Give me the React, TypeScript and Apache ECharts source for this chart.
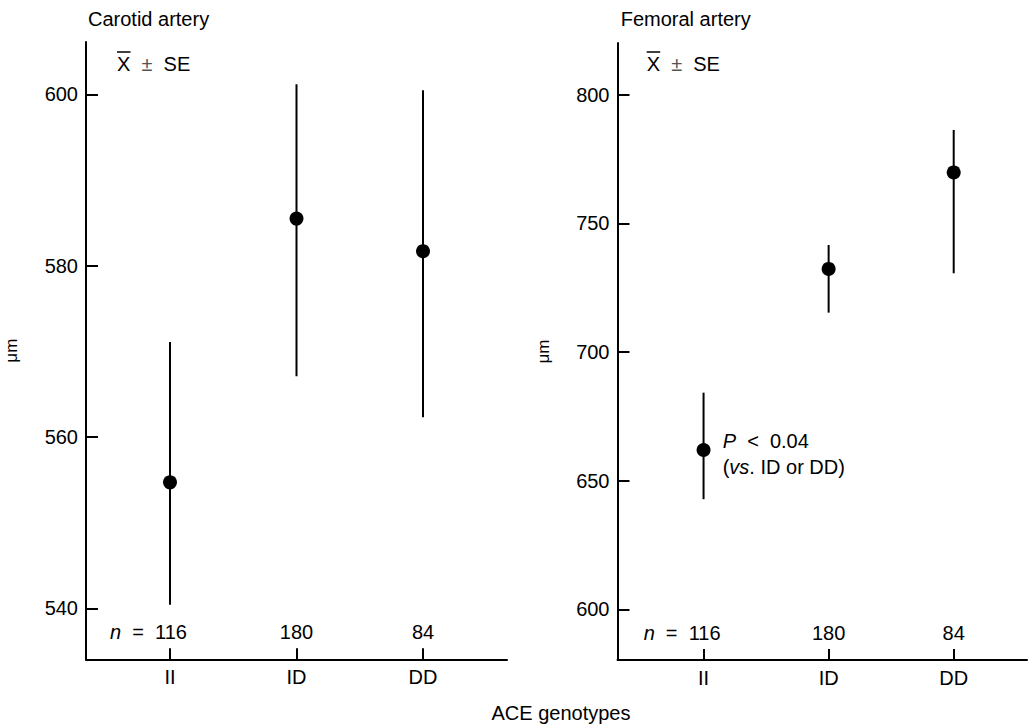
import React, { useEffect, useRef } from "react";
import * as echarts from "echarts";

const categories = ["II", "ID", "DD"];
const categoryPos = [1, 2, 3];
const nCounts = [116, 180, 84];

const carotidMean = [554.7, 585.5, 581.7];
const carotidLow = [540.4, 567.1, 562.3];
const carotidHigh = [571.1, 601.2, 600.5];

const femoralMean = [661.9, 732.3, 769.8];
const femoralLow = [642.8, 715.3, 730.6];
const femoralHigh = [684.2, 741.6, 786.3];

const carotidTicks = [540, 560, 580, 600];
const femoralTicks = [600, 650, 700, 750, 800];

const FONT = "'Liberation Sans', Arial, Helvetica, sans-serif";

function App() {
  const ref = useRef<HTMLDivElement>(null);

  useEffect(() => {
    if (!ref.current) return;
    const chart = echarts.init(ref.current, undefined, { renderer: "svg" });

    const axisLine = { show: true, lineStyle: { color: "#000", width: 2 } };

    const yAxis = (idx: number, min: number, max: number, ticks: number[]) => ({
      type: "value",
      gridIndex: idx,
      min,
      max,
      axisLine,
      axisTick: {
        show: true,
        inside: true,
        length: 12,
        lineStyle: { color: "#000", width: 2 },
        customValues: ticks,
      },
      axisLabel: {
        customValues: ticks,
        fontSize: 20,
        color: "#000",
        fontFamily: FONT,
        margin: 8,
      },
      splitLine: { show: false },
      name: "μm",
      nameLocation: "middle",
      nameRotate: 90,
      nameGap: 66,
      nameTextStyle: { fontSize: 17, color: "#000", fontFamily: FONT },
    });

    const xAxis = (idx: number, min: number, max: number) => ({
      type: "value",
      gridIndex: idx,
      min,
      max,
      axisLine,
      axisTick: {
        show: true,
        inside: true,
        length: 11,
        lineStyle: { color: "#000", width: 2 },
        customValues: categoryPos,
      },
      axisLabel: {
        customValues: categoryPos,
        formatter: (v: number) => categories[Math.round(v) - 1] ?? "",
        fontSize: 20,
        color: "#000",
        fontFamily: FONT,
        margin: 8,
      },
      splitLine: { show: false },
    });

    const errSeries = (idx: number, low: number[], high: number[]) => ({
      type: "custom",
      xAxisIndex: idx,
      yAxisIndex: idx,
      data: categoryPos.map((p, i) => [p, low[i], high[i]]),
      encode: { x: 0, y: [1, 2] },
      renderItem: (params: any, api: any) => {
        const x = api.value(0);
        const a = api.coord([x, api.value(1)]);
        const b = api.coord([x, api.value(2)]);
        return {
          type: "line",
          shape: { x1: a[0], y1: a[1], x2: b[0], y2: b[1] },
          style: { stroke: "#000", lineWidth: 2 },
        };
      },
      z: 2,
    });

    const dotSeries = (idx: number, mean: number[]) => ({
      type: "scatter",
      xAxisIndex: idx,
      yAxisIndex: idx,
      data: categoryPos.map((p, i) => [p, mean[i]]),
      symbol: "circle",
      symbolSize: 14,
      itemStyle: { color: "#000", opacity: 1 },
      z: 3,
    });

    chart.setOption({
      animation: false,
      grid: [
        { left: 86, top: 42, width: 421, height: 617.3 },
        { left: 617.5, top: 43, width: 409.5, height: 617 },
      ],
      xAxis: [xAxis(0, 0.336, 3.664), xAxis(1, 0.312, 3.586)],
      yAxis: [
        yAxis(0, 534.04, 606.12, carotidTicks),
        yAxis(1, 580.3, 820.1, femoralTicks),
      ],
      series: [
        errSeries(0, carotidLow, carotidHigh),
        dotSeries(0, carotidMean),
        errSeries(1, femoralLow, femoralHigh),
        dotSeries(1, femoralMean),
      ],
    });

    const txt = (text: string, x: number, y: number, align = "left", extra: any = {}) => ({
      type: "text",
      x,
      y,
      style: {
        text,
        align,
        verticalAlign: "middle",
        fontSize: 20,
        fontFamily: FONT,
        fill: "#000",
        rich: {
          i: { fontStyle: "italic", fontSize: 20, fontFamily: FONT, fill: "#000" },
          g: { fontSize: 20, fontFamily: FONT, fill: "#555" },
        },
        ...extra,
      },
    });

    const graphics: any[] = [];
    [0, 1].forEach((idx) => {
      const nY = idx === 0 ? 632 : 632.5;
      categoryPos.forEach((p, i) => {
        const px = chart.convertToPixel({ xAxisIndex: idx } as any, p) as number;
        if (i === 0) {
          graphics.push(txt(`{i|n}  =  ${nCounts[i]}`, px + 17, nY, "right"));
        } else {
          graphics.push(txt(String(nCounts[i]), px, nY, "center"));
        }
      });
    });

    graphics.push(txt("Carotid artery", 88, 19));
    graphics.push(txt("Femoral artery", 620.7, 19));
    graphics.push(txt("X  {g|±}  SE", 117, 63.5));
    graphics.push(txt("X  {g|±}  SE", 646.7, 63.5));
    graphics.push({
      type: "line",
      shape: { x1: 117, y1: 52, x2: 130.5, y2: 52 },
      style: { stroke: "#000", lineWidth: 1.5 },
    });
    graphics.push({
      type: "line",
      shape: { x1: 646.7, y1: 52, x2: 660.2, y2: 52 },
      style: { stroke: "#000", lineWidth: 1.5 },
    });
    graphics.push(txt("ACE genotypes", 561, 713, "center"));
    graphics.push(txt("{i|P}  <  0.04", 722.7, 441));
    graphics.push(txt("({i|vs}. ID or DD)", 722.7, 467.3));

    chart.setOption({ graphic: graphics });

    return () => chart.dispose();
  }, []);

  return (
    <div
      ref={ref}
      style={{ position: "fixed", left: 0, top: 0, width: 1028, height: 726, background: "#fff" }}
    />
  );
}

export default App;
